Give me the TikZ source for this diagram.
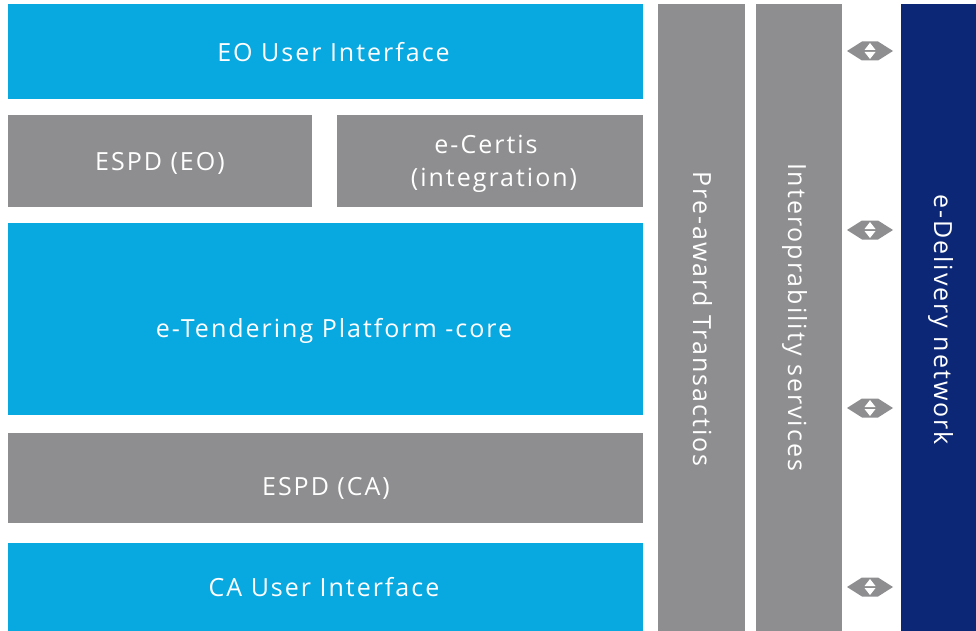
\documentclass[tikz,border=0pt]{standalone}
\usepackage{fontspec}
\usetikzlibrary{calc}
\setmainfont[LetterSpace=8]{Open Sans}
\definecolor{lblue}{HTML}{08A8E0}
\definecolor{mgray}{HTML}{8E8E90}
\definecolor{dblue}{HTML}{0B2776}
\begin{document}
\begin{tikzpicture}[x=1pt,y=-1pt,
  blk/.style={inner sep=0pt,outer sep=0pt},
  bluebox/.style={blk,fill=lblue},
  graybox/.style={blk,fill=mgray},
  darkbox/.style={blk,fill=dblue},
  lbl/.style={text=white,font=\fontsize{25}{32}\selectfont,inner sep=0pt,anchor=base},
  vlabel/.style={lbl,rotate=-90}]
\useasboundingbox (0,0) rectangle (976,631);
% boxes
\node[bluebox,minimum width=635pt,minimum height=95pt] (eoui) at (325.5,51.5) {};
\node[graybox,minimum width=304pt,minimum height=92pt] (espdeo) at (160,161) {};
\node[graybox,minimum width=306pt,minimum height=92pt] (ecertis) at (490,161) {};
\node[bluebox,minimum width=635pt,minimum height=192pt] (etender) at (325.5,319) {};
\node[graybox,minimum width=635pt,minimum height=90pt] (espdca) at (325.5,478) {};
\node[bluebox,minimum width=635pt,minimum height=88pt] (caui) at (325.5,587) {};
% labels
\node[lbl] (eouil) at (333.5,62) {EO User Interface};
\node[lbl] (espdeol) at (160,171) {ESPD (EO)};
\node[lbl] (ecertisl1) at (486,154) {e-Certis};
\node[lbl] (ecertisl2) at (494,186) {(integration)};
\node[lbl] (etenderl) at (334,337) {e-Tendering Platform -core};
\node[lbl] (espdcal) at (326,495) {ESPD (CA)};
\node[lbl] (cauil) at (324,596) {CA User Interface};
% columns
\node[graybox,minimum width=87pt,minimum height=627pt] (pre) at (701.5,317.5) {};
\node[vlabel] (prelbl) at (693,319) {Pre-award Transactios};
\node[graybox,minimum width=86pt,minimum height=627pt] (inter) at (799,317.5) {};
\node[vlabel] (interlbl) at (788,317) {Interoprability services};
\node[darkbox,minimum width=75pt,minimum height=627pt] (edel) at (938.5,317.5) {};
\node[vlabel] (edellbl) at (934,319.5) {e-Delivery network};
% arrow icons
\foreach \yy/\nm in {51/a1,230/a2,408/a3,587/a4}{
  \coordinate (\nm) at (870,\yy);
  \fill[mgray] ($(\nm)+(-23,0)$) -- ($(\nm)+(-8,-9.5)$) -- ($(\nm)+(8,-9.5)$) -- ($(\nm)+(23,0)$) -- ($(\nm)+(8,9.5)$) -- ($(\nm)+(-8,9.5)$) -- cycle;
  \fill[white] ($(\nm)+(0,-8)$) -- ($(\nm)+(-5.5,-1)$) -- ($(\nm)+(5.5,-1)$) -- cycle;
  \fill[white] ($(\nm)+(0,8)$) -- ($(\nm)+(-5.5,1)$) -- ($(\nm)+(5.5,1)$) -- cycle;
}
\end{tikzpicture}
\end{document}
